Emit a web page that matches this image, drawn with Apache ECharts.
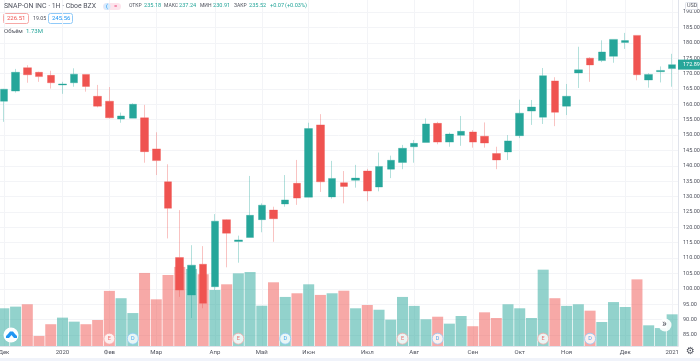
<!DOCTYPE html>
<html>
<head>
<meta charset="utf-8">
<style>html,body{margin:0;padding:0;background:#fff}#chart{width:700px;height:361px}</style>
<script src="https://cdn.jsdelivr.net/npm/echarts@6/dist/echarts.min.js"></script>
</head>
<body>
<div id="chart"></div>
<script>
var monthLabels = ['Дек','','','','','2020','','','','Фев','','','','Мар','','','','','Апр','','','','Май','','','','Июн','','','','','Июл','','','','Авг','','','','','Сен','','','','Окт','','','','Ноя','','','','','Дек','','','','2021'];
var opens = [161,164.3,171.9,170.4,169.4,166.3,167,169.7,162.6,161,155.2,155.5,155.6,145.5,134.8,110.2,98,108,100.7,122.5,115.4,116.7,122.5,125.6,127.6,134.3,129.8,153.3,129.9,134.5,135.3,138.3,133.1,138.9,141.1,146.2,147.6,153.8,147.7,149.9,151,149.6,144,144.5,149.8,157.8,155.8,167.6,159.4,170.2,175,174.2,175.6,180.1,182.4,167.9,170.6,171.6];
var closes = [164.9,170.4,169.6,169,167,166.6,169.8,165.8,159.4,155.6,156.2,160,144.6,141.7,126.2,99.6,107.7,95.3,122,118.1,115.9,123.9,127.2,122.8,128.9,129.5,152.1,134.8,135.9,133.3,136,131.8,139.8,141.8,145.7,147.3,153.6,147.7,150.3,151.2,147.7,147.4,141.9,148.1,157.1,159.1,169.3,157.4,162.6,171.2,172.8,177,181.1,180.7,169.6,169.7,171,172.89];
var lows = [154.3,163.8,167,167.3,165.1,163.4,165.7,164.1,159,155.4,154,155.5,141,137,116.4,97.4,90.5,93.7,99.6,107,108.5,116.7,118.4,115.3,126.7,127.3,129.8,131.5,129.3,127.8,132.9,128.5,131.7,136,138.9,141,147.6,147,146.2,146.5,145.9,145.9,138.9,141.9,149,153.3,153.6,152.9,156.5,165.3,167.3,173.7,173.5,178,167.8,165.4,167.1,165.7];
var highs = [165,171.5,172.7,170.6,170.9,167.3,171.7,169.7,166.3,165.6,157.3,160.3,159.8,150.9,140.5,125.6,114.2,113.9,124.3,122.6,117.3,136.7,127.8,126.7,137,141.9,154,156.8,141.6,138.3,140.3,139,144.3,143.3,146.8,148.4,155.4,154.3,150.8,156.2,151.6,154.1,146.2,150,161.5,161.4,171.8,168.8,166.6,178.7,175.3,180.8,181.1,183.2,182.4,170.1,172.3,176.4];
var volumes = [2.06,2.15,2.28,0.55,1.19,1.55,1.33,1.19,1.42,3.01,2.61,1.80,3.99,2.55,3.88,4.32,4.21,3.92,3.06,3.37,3.97,4.04,2.20,3.48,2.68,2.88,3.37,2.79,2.88,3.02,2.06,2.24,1.98,1.44,2.68,2.19,1.46,1.60,1.22,1.64,1.08,1.84,1.53,2.28,2.06,1.53,4.17,2.61,2.19,2.28,1.93,1.31,2.40,2.13,3.64,1.13,0.98,1.73];
var earningsWeeks = [9,20,34,46];
var dividendWeeks = [11,24,37,50];
var lastClose = 172.89;

var UP = '#26a69a', DOWN = '#ef5350';
var FONT = 'Roboto, sans-serif';
var TXT = '#50535e';

var candles = opens.map(function (o, i) { return [o, closes[i], lows[i], highs[i]]; });
var volBars = volumes.map(function (v, i) {
  return { value: v, itemStyle: { color: closes[i] >= opens[i] ? 'rgba(38,166,154,0.5)' : 'rgba(239,83,80,0.5)' } };
});
var monthLines = [];
monthLabels.forEach(function (m, i) { if (m) monthLines.push({ xAxis: i }); });

function eventPoints(weeks, letter) {
  return weeks.map(function (w) { return { value: [w, 0.4], label: { formatter: letter } }; });
}

// header text helper, small strings placed one by one
function label(text, x, y, size, fill) {
  return { type: 'text', z: 11, x: x, y: y, style: { text: text, fontSize: size, fill: fill, fontFamily: FONT, verticalAlign: 'middle' } };
}

var chart = echarts.init(document.getElementById('chart'));
var option = {
  animation: false,
  backgroundColor: '#fff',
  textStyle: { fontFamily: FONT },
  grid: [
    { left: -2, width: 680, top: 12, height: 323, outerBoundsMode: 'none' },
    { left: -2, width: 680, top: 0, height: 346, outerBoundsMode: 'none' }
  ],
  xAxis: [
    { type: 'category', gridIndex: 0, data: monthLabels, show: false },
    {
      type: 'category', gridIndex: 1, data: monthLabels,
      axisLine: { show: true, lineStyle: { color: '#e0e3eb' } },
      axisTick: { show: false },
      axisLabel: { interval: 0, fontSize: 6, color: TXT, margin: 3, fontFamily: FONT, hideOverlap: false },
      splitLine: { show: false }
    }
  ],
  yAxis: [
    {
      type: 'value', gridIndex: 0, position: 'right', min: 85, max: 190, interval: 5,
      axisLine: { show: false }, axisTick: { show: false },
      axisLabel: { fontSize: 5.5, color: TXT, margin: 5, fontFamily: FONT, formatter: function (v) { return v.toFixed(2); } },
      splitLine: { lineStyle: { color: '#f3f4f7', width: 1 } }
    },
    {
      type: 'value', gridIndex: 1, position: 'right', min: 0, max: 18.9,
      axisLine: { show: true, lineStyle: { color: '#e0e3eb' } },
      axisTick: { show: false }, axisLabel: { show: false }, splitLine: { show: false }
    }
  ],
  series: [
    {
      type: 'bar', name: 'Объём', xAxisIndex: 1, yAxisIndex: 1, data: volBars, barWidth: 11, z: 2,
      markLine: {
        silent: true, symbol: 'none', animation: false, z: 1, label: { show: false },
        lineStyle: { color: '#f3f4f7', width: 1, type: 'solid' }, data: monthLines
      }
    },
    {
      type: 'candlestick', name: 'SNAP-ON INC', xAxisIndex: 0, yAxisIndex: 0, data: candles, barWidth: 8, z: 3, clip: false,
      itemStyle: {
        color: UP, color0: DOWN,
        borderColor: 'rgba(38,166,154,0.35)', borderColor0: 'rgba(239,83,80,0.35)',
        borderWidth: 1
      },
      markLine: {
        silent: true, symbol: 'none', animation: false, z: 8,
        lineStyle: { color: 'rgba(0,0,0,0)', width: 0 },
        label: {
          show: true, position: 'end', distance: 0, formatter: lastClose.toFixed(2), color: '#fff', fontSize: 5.5, fontFamily: FONT,
          backgroundColor: UP, padding: [2, 1, 2, 5]
        },
        data: [{ yAxis: lastClose }]
      }
    },
    {
      type: 'scatter', xAxisIndex: 1, yAxisIndex: 1, symbolSize: 11, z: 5,
      data: eventPoints(earningsWeeks, 'E'),
      itemStyle: { color: '#fff', borderColor: '#f7a9a7', borderWidth: 1 },
      label: { show: true, position: 'inside', color: DOWN, fontSize: 5.5 }
    },
    {
      type: 'scatter', xAxisIndex: 1, yAxisIndex: 1, symbolSize: 11, z: 5,
      data: eventPoints(dividendWeeks, 'D'),
      itemStyle: { color: '#fff', borderColor: '#90caf9', borderWidth: 1 },
      label: { show: true, position: 'inside', color: '#2196f3', fontSize: 5.5 }
    }
  ],
  graphic: [
    { type: 'rect', z: 0, shape: { x: 0, y: 358, width: 700, height: 3 }, style: { fill: '#f0f3fa' } },
    label('SNAP-ON INC · 1Н · Cboe BZX', 4, 6, 6.9, TXT),
    { type: 'rect', z: 10, shape: { x: 103, y: 3, width: 18, height: 7, r: 3.5 }, style: { fill: '#fde4ec' } },
    { type: 'circle', z: 10, shape: { cx: 107, cy: 6.5, r: 3.5 }, style: { fill: '#d6ebfd' } },
    label('(', 106, 6, 6, '#2196f3'),
    label('=', 114, 6, 6, '#ec407a'),
    label('ОТКР', 129, 6, 5, TXT), label('235.18', 144, 6, 5.6, UP),
    label('МАКС', 164, 6, 5, TXT), label('237.24', 179, 6, 5.6, UP),
    label('МИН', 200, 6, 5, TXT), label('230.91', 213, 6, 5.6, UP),
    label('ЗАКР', 234, 6, 5, TXT), label('235.52', 249, 6, 5.6, UP),
    label('+0.07', 270, 6, 5.6, UP), label('(+0.03%)', 285, 6, 5.6, UP),
    { type: 'rect', shape: { x: 3.5, y: 13.5, width: 25, height: 10, r: 2 }, style: { fill: '#fff', stroke: '#f7a9a7', lineWidth: 1 } },
    label('226.51', 7, 18.5, 6, DOWN),
    label('19.05', 33, 18.5, 5.3, TXT),
    { type: 'rect', shape: { x: 48.5, y: 13.5, width: 24, height: 10, r: 2 }, style: { fill: '#fff', stroke: '#90caf9', lineWidth: 1 } },
    label('245.56', 52, 18.5, 6, '#2196f3'),
    label('Объём', 4, 31, 6, TXT),
    label('1.73M', 26, 31, 6, UP),
    { type: 'rect', z: 10, shape: { x: 685.5, y: 2.5, width: 12, height: 7, r: 1 }, style: { fill: '#fff', stroke: '#e0e3eb', lineWidth: 1 } },
    label('USD', 687, 6, 5.5, TXT),
    // logo bubble
    { type: 'circle', z: 10, shape: { cx: 11, cy: 335, r: 7.5 }, style: { fill: '#fff' } },
    { type: 'polygon', z: 11, shape: { points: [[6, 338], [6, 336], [8, 334], [10, 331.5], [13, 331.5], [15, 334], [17, 336], [17, 338], [14, 338], [11.5, 335], [9, 338]] }, style: { fill: '#2196f3' } },
    // scroll to latest
    { type: 'circle', z: 10, shape: { cx: 665, cy: 325, r: 6.5 }, style: { fill: 'rgba(255,255,255,0.9)' } },
    label('»', 662, 324.5, 10, TXT),
    // settings
    { type: 'text', z: 11, x: 686, y: 351.5, style: { text: '⚙', fontSize: 10, fill: TXT, fontFamily: 'DejaVu Sans', verticalAlign: 'middle' } }
  ]
};
chart.setOption(option);
</script>
</body>
</html>
